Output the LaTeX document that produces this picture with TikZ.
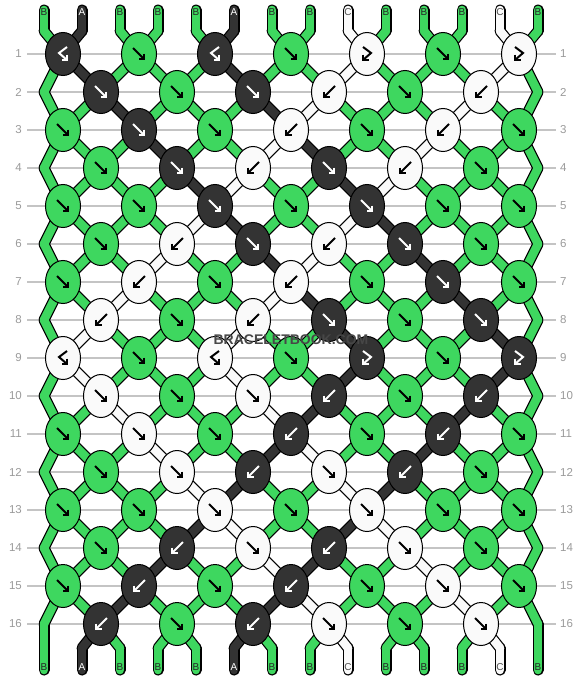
\documentclass[tikz,border=0pt]{standalone}
\usepackage{fontspec}
\setmainfont{Liberation Sans}
\usetikzlibrary{shapes.geometric,backgrounds}
\definecolor{thrA}{HTML}{333333}
\definecolor{thrB}{HTML}{3ED75F}
\definecolor{thrC}{HTML}{FAFAFA}
\colorlet{arrA}{white}
\colorlet{arrB}{black}
\colorlet{arrC}{black}
\colorlet{txtA}{white}
\colorlet{txtB}{black!85}
\colorlet{txtC}{black!70}
\definecolor{rulegray}{HTML}{C4C4C4}
\definecolor{numgray}{HTML}{9A9A9A}

% name of the point where string #3 sits in row #2
\newcommand\strandpt[3]{%
  \ifnum#2=-1\relax \edef#1{t-#3}%
  \else\ifnum#2=0\relax \edef#1{tb-#3}%
  \else\ifnum#2=17\relax \edef#1{bb-#3}%
  \else\ifnum#2=18\relax \edef#1{b-#3}%
  \else\ifodd#2\relax
    \pgfmathtruncatemacro\kk{#3/2+1}\edef#1{k-#2-\kk}%
  \else\ifnum#3=0\relax \edef#1{e-#2-L}%
  \else\ifnum#3=13\relax \edef#1{e-#2-R}%
  \else
    \pgfmathtruncatemacro\kk{(#3-1)/2+1}\edef#1{k-#2-\kk}%
  \fi\fi\fi\fi\fi\fi\fi}

\begin{document}
\begin{tikzpicture}[
    x=1pt, y=-1pt,
    knot/.style={
		ellipse,
		draw=black,
		line width=1pt,
		minimum width=35pt,
		minimum height=43pt,
		inner sep=0pt
	},
    tag/.style={
		font=\fontsize{10}{10}\selectfont,
		inner sep=0pt
	},
    rownum/.style={
		font=\fontsize{11.5}{11.5}\selectfont,
		text=numgray,
		inner sep=0pt
	},
    rule/.style={draw=rulegray, line width=1.2pt},
    arrf/.pic={\draw[line width=2pt] (-6,-6) -- (5,5);
               \draw[line width=2pt] (5,-0.5) -- (5,5) -- (-0.5,5);},
    arrb/.pic={\draw[line width=2pt] (6,-6) -- (-5,5);
               \draw[line width=2pt] (-5,-0.5) -- (-5,5) -- (0.5,5);},
    arrfb/.pic={\draw[line width=2pt] (-4,-7) -- (4,-1) -- (-4,6);
                \draw[line width=2pt] (-4,0.5) -- (-4,6) -- (1.5,6);},
    arrbf/.pic={\draw[line width=2pt] (4,-7) -- (-4,-1) -- (4,6);
                \draw[line width=2pt] (4,0.5) -- (4,6) -- (-1.5,6);}
  ]
  \useasboundingbox (0,0) rectangle (582,680);

  % We start by placing the knots, row by row
  \foreach \r/\row in {
      1/{A/bf,B/f,A/bf,B/f,C/fb,B/f,C/fb},
      2/{A/f,B/f,A/f,C/b,B/f,C/b},
      3/{B/f,A/f,B/f,C/b,B/f,C/b,B/f},
      4/{B/f,A/f,C/b,A/f,C/b,B/f},
      5/{B/f,B/f,A/f,B/f,A/f,B/f,B/f},
      6/{B/f,C/b,A/f,C/b,A/f,B/f},
      7/{B/f,C/b,B/f,C/b,B/f,A/f,B/f},
      8/{C/b,B/f,C/b,A/f,B/f,A/f},
      9/{C/bf,B/f,C/bf,B/f,A/fb,B/f,A/fb},
      10/{C/f,B/f,C/f,A/b,B/f,A/b},
      11/{B/f,C/f,B/f,A/b,B/f,A/b,B/f},
      12/{B/f,C/f,A/b,C/f,A/b,B/f},
      13/{B/f,B/f,C/f,B/f,C/f,B/f,B/f},
      14/{B/f,A/b,C/f,A/b,C/f,B/f},
      15/{B/f,A/b,B/f,A/b,B/f,C/f,B/f},
      16/{A/b,B/f,A/b,C/f,B/f,C/f}} {
    \foreach \kc/\kt [count=\k] in \row {
      \ifodd\r\relax \pgfmathtruncatemacro\kx{76*\k-13}%
      \else \pgfmathtruncatemacro\kx{76*\k+25}\fi
      \node [knot, fill=thr\kc] (k-\r-\k) at (\kx,16+38*\r) {};
      \pic [color=arr\kc] at (k-\r-\k) {arr\kt};
    }
    \ifodd\r\relax\else
      \coordinate (e-\r-L) at (44,16+38*\r);
      \coordinate (e-\r-R) at (538,16+38*\r);
    \fi
  }

  % string ends
  \foreach \p in {0,...,13} {
    \coordinate (t-\p) at (44+38*\p,10);
    \coordinate (tb-\p) at (44+38*\p,31);
    \coordinate (bb-\p) at (44+38*\p,648);
    \coordinate (b-\p) at (44+38*\p,670);
  }

  % row numbers
  \foreach \r in {1,...,16} {
    \node [rownum, anchor=east] (nl-\r) at (22,16+38*\r) {\r};
    \node [rownum, anchor=west] (nr-\r) at (560,16+38*\r) {\r};
  }

  \begin{pgfonlayer}{background}
  \foreach \r in {1,...,16}
    \draw [rule] (27,16+38*\r) -- (556,16+38*\r);
  % the strings: black edge first, then the colour
  \foreach \pass/\w in {1/11pt,2/8.6pt} {
    \foreach \r/\st in {
        -1/{B,A,B,B,B,A,B,B,C,B,B,B,C,B},
        0/{B,A,B,B,B,A,B,B,C,B,B,B,C,B},
        1/{B,A,B,B,B,A,B,B,C,B,B,B,C,B},
        2/{B,B,A,B,B,B,A,C,B,B,B,C,B,B},
        3/{B,B,B,A,B,B,C,A,B,B,C,B,B,B},
        4/{B,B,B,B,A,C,B,B,A,C,B,B,B,B},
        5/{B,B,B,B,C,A,B,B,C,A,B,B,B,B},
        6/{B,B,B,C,B,B,A,C,B,B,A,B,B,B},
        7/{B,B,C,B,B,B,C,A,B,B,B,A,B,B},
        8/{B,C,B,B,B,C,B,B,A,B,B,B,A,B},
        9/{B,C,B,B,B,C,B,B,A,B,B,B,A,B},
        10/{B,B,C,B,B,B,C,A,B,B,B,A,B,B},
        11/{B,B,B,C,B,B,A,C,B,B,A,B,B,B},
        12/{B,B,B,B,C,A,B,B,C,A,B,B,B,B},
        13/{B,B,B,B,A,C,B,B,A,C,B,B,B,B},
        14/{B,B,B,A,B,B,C,A,B,B,C,B,B,B},
        15/{B,B,A,B,B,B,A,C,B,B,B,C,B,B},
        16/{B,A,B,B,B,A,B,B,C,B,B,B,C,B},
        17/{B,A,B,B,B,A,B,B,C,B,B,B,C,B}} {
      \pgfmathtruncatemacro\rn{\r+1}
      \foreach \sc [count=\p from 0] in \st {
        \strandpt\pa{\r}{\p}\strandpt\pb{\rn}{\p}
        \ifnum\pass=1 \def\col{black}\else\def\col{thr\sc}\fi
        \draw [line width=\w, line cap=round, line join=round, draw=\col]
          (\pa.center) -- (\pb.center);
      }
    }
  }
  \end{pgfonlayer}

  % letters on the string ends
  \foreach \kc [count=\p from 0] in {B,A,B,B,B,A,B,B,C,B,B,B,C,B} {
    \node [tag, text=txt\kc] (lt-\p) at (44+38*\p,12) {\kc};
    \node [tag, text=txt\kc] (lb-\p) at (44+38*\p,667) {\kc};
  }

  \node [font=\bfseries\fontsize{14}{14}\selectfont, text=black!72] (mark) at (291,340) {BRACELETBOOK.COM};
\end{tikzpicture}
\end{document}
